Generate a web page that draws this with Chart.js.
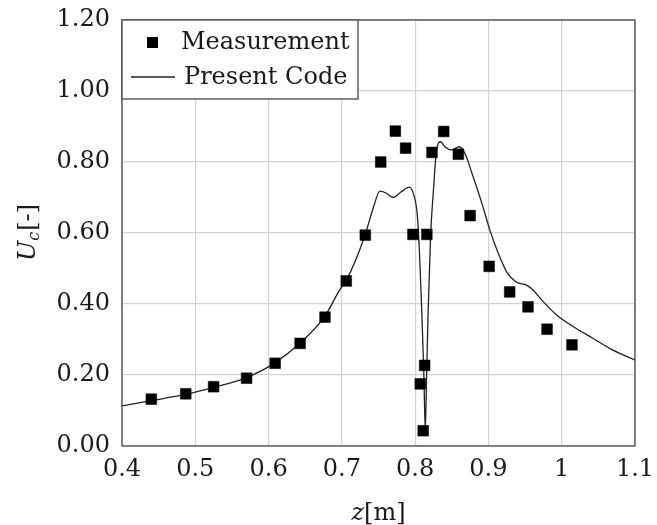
<!DOCTYPE html>
<html>
<head>
<meta charset="utf-8">
<script src="https://cdn.jsdelivr.net/npm/chart.js@4/dist/chart.umd.min.js"></script>
<style>
  html, body { margin: 0; padding: 0; background: #fff; }
  #wrap { width: 657px; height: 525px; }
</style>
</head>
<body>
<div id="wrap"><canvas id="c" width="657" height="525"></canvas></div>
<script>
// Measured centreline velocity along z
const measZ = [0.440, 0.487, 0.525, 0.570, 0.609, 0.643, 0.677, 0.706, 0.732, 0.753,
               0.773, 0.787, 0.797, 0.807, 0.811, 0.813, 0.816, 0.823, 0.839, 0.859,
               0.875, 0.901, 0.929, 0.954, 0.980, 1.014];
const measU = [0.132, 0.147, 0.167, 0.191, 0.233, 0.289, 0.363, 0.465, 0.594, 0.800,
               0.887, 0.839, 0.596, 0.175, 0.043, 0.227, 0.596, 0.827, 0.886, 0.822,
               0.649, 0.506, 0.434, 0.392, 0.329, 0.285];

// Simulated profile
const codeZ = [0.400, 0.440, 0.488, 0.525, 0.569, 0.607, 0.643, 0.677, 0.697, 0.707,
               0.731, 0.743, 0.752, 0.761, 0.770, 0.781, 0.792, 0.798, 0.803, 0.806,
               0.809, 0.812, 0.8138, 0.8156, 0.8178, 0.8211, 0.8247, 0.8293, 0.8348, 0.8406,
               0.850, 0.860, 0.868, 0.879, 0.891, 0.902, 0.913, 0.925, 0.938, 0.952,
               0.961, 0.975, 0.993, 1.016, 1.043, 1.070, 1.100];
const codeU = [0.113, 0.128, 0.146, 0.165, 0.192, 0.232, 0.290, 0.366, 0.440, 0.470,
               0.590, 0.672, 0.718, 0.712, 0.700, 0.716, 0.729, 0.708, 0.650, 0.540,
               0.383, 0.195, 0.045, 0.195, 0.383, 0.594, 0.712, 0.834, 0.857, 0.843,
               0.834, 0.843, 0.824, 0.759, 0.684, 0.608, 0.545, 0.490, 0.462, 0.453,
               0.439, 0.406, 0.369, 0.336, 0.303, 0.270, 0.242];

const xTicks = [0.4, 0.5, 0.6, 0.7, 0.8, 0.9, 1.0, 1.1];
const yTicks = [0.0, 0.2, 0.4, 0.6, 0.8, 1.0, 1.2];

const seriesNames = ['Measurement', 'Present Code'];

const FONT = "'DejaVu Serif', serif";
const TEXT = '#1a1a1a';
const FRAME = '#555555';
const GRID = '#d2d2d2';
const LINE = '#222222';

Chart.defaults.font.family = FONT;
Chart.defaults.font.size = 24;
Chart.defaults.color = TEXT;

// Frame, in-plot legend and axis titles
const decorations = {
  id: 'decorations',
  afterDraw(chart) {
    const ctx = chart.ctx;
    const a = chart.chartArea;
    ctx.save();

    // full frame around the plot area
    ctx.strokeStyle = FRAME;
    ctx.lineWidth = 1.4;
    ctx.strokeRect(a.left, a.top, a.right - a.left, a.bottom - a.top);

    // legend box in the upper-left corner
    const bx = a.left, by = a.top, bw = 236, bh = 79;
    ctx.fillStyle = '#fff';
    ctx.fillRect(bx, by, bw, bh);
    ctx.strokeStyle = FRAME;
    ctx.lineWidth = 1.4;
    ctx.strokeRect(bx, by, bw, bh);

    ctx.font = '24px ' + FONT;
    ctx.fillStyle = TEXT;
    ctx.textBaseline = 'middle';
    ctx.textAlign = 'left';
    // marker entry
    ctx.fillStyle = '#000';
    ctx.fillRect(bx + 25, by + 17, 11, 11);
    ctx.fillStyle = TEXT;
    ctx.fillText(seriesNames[0], bx + 59, by + 23);
    // line entry
    ctx.strokeStyle = LINE;
    ctx.lineWidth = 1.3;
    ctx.beginPath();
    ctx.moveTo(bx + 9, by + 57);
    ctx.lineTo(bx + 53, by + 57);
    ctx.stroke();
    ctx.fillText(seriesNames[1], bx + 62, by + 58);

    // x-axis title: z[m]
    const cx = (a.left + a.right) / 2;
    const ty = 514;
    ctx.font = 'italic 24px ' + FONT;
    const wz = ctx.measureText('z').width;
    ctx.font = '24px ' + FONT;
    const wm = ctx.measureText('[m]').width;
    let x0 = cx - (wz + wm) / 2;
    ctx.font = 'italic 24px ' + FONT;
    ctx.fillText('z', x0, ty);
    ctx.font = '24px ' + FONT;
    ctx.fillText('[m]', x0 + wz, ty);

    // y-axis title: U_c[-]
    ctx.translate(29, (a.top + a.bottom) / 2);
    ctx.rotate(-Math.PI / 2);
    ctx.font = 'italic 24px ' + FONT;
    const wu = ctx.measureText('U').width;
    ctx.font = 'italic 16px ' + FONT;
    const wc = ctx.measureText('c').width;
    ctx.font = '24px ' + FONT;
    const wb = ctx.measureText('[-]').width;
    x0 = -(wu + wc + wb) / 2;
    ctx.font = 'italic 24px ' + FONT;
    ctx.fillText('U', x0, 0);
    ctx.font = 'italic 16px ' + FONT;
    ctx.fillText('c', x0 + wu, 6);
    ctx.font = '24px ' + FONT;
    ctx.fillText('[-]', x0 + wu + wc + 1, 0);

    ctx.restore();
  }
};

new Chart(document.getElementById('c'), {
  type: 'scatter',
  data: {
    datasets: [
      {
        label: seriesNames[0],
        data: measZ.map((z, i) => ({ x: z, y: measU[i] })),
        pointStyle: 'rect',
        pointRadius: 7.6,
        pointBackgroundColor: '#000',
        pointBorderColor: '#000',
        pointBorderWidth: 0.5,
        showLine: false
      },
      {
        label: seriesNames[1],
        data: codeZ.map((z, i) => ({ x: z, y: codeU[i] })),
        showLine: true,
        pointRadius: 0,
        borderColor: LINE,
        borderWidth: 1.3,
        cubicInterpolationMode: 'monotone',
        fill: false
      }
    ]
  },
  options: {
    responsive: false,
    animation: false,
    layout: { padding: { left: 0, top: 20, right: 22, bottom: 0 } },
    plugins: {
      legend: { display: false },
      tooltip: { enabled: false }
    },
    scales: {
      x: {
        type: 'linear',
        min: 0.4,
        max: 1.1,
        afterBuildTicks: s => { s.ticks = xTicks.map(v => ({ value: v })); },
        afterFit: s => { s.height = 79; s.paddingLeft = 0; s.paddingRight = 0; },
        grid: { color: GRID, lineWidth: 1.2, drawTicks: false },
        border: { display: false },
        ticks: {
          autoSkip: false,
          maxRotation: 0,
          padding: 9,
          callback: v => String(Number(v.toFixed(1)))
        }
      },
      y: {
        type: 'linear',
        min: 0,
        max: 1.2,
        afterBuildTicks: s => { s.ticks = yTicks.map(v => ({ value: v })); },
        afterFit: s => { s.width = 122; s.paddingTop = 0; s.paddingBottom = 0; },
        grid: { color: GRID, lineWidth: 1.2, drawTicks: false },
        border: { display: false },
        ticks: {
          padding: 12,
          callback: v => v.toFixed(2)
        }
      }
    }
  },
  plugins: [decorations]
});
</script>
</body>
</html>
